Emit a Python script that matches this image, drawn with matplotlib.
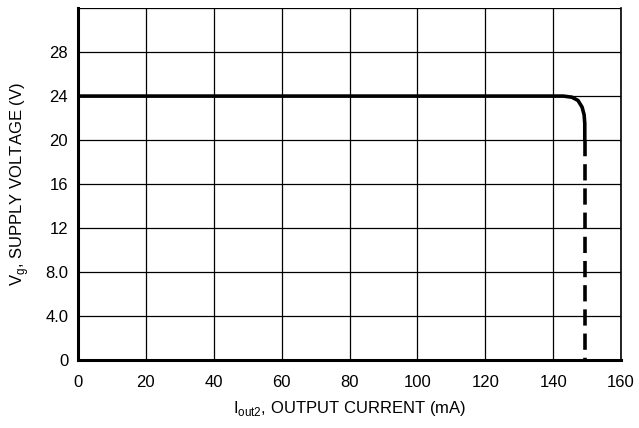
import numpy as np
import matplotlib.pyplot as plt

plt.rcParams['font.family'] = ['Liberation Sans', 'DejaVu Sans']
plt.rcParams['mathtext.fontset'] = 'custom'
plt.rcParams['mathtext.rm'] = 'Liberation Sans'

# solid part of the curve
i_solid = [0, 100, 143, 145.5, 147.3, 148.5, 149.1, 149.3, 149.3]
v_solid = [24, 24, 24, 23.9, 23.6, 23.0, 22.3, 21.5, 20.0]
# dashed part (extrapolated)
i_dash = [149.3, 149.3]
v_dash = [20.0, 0.0]

x_ticks = [0, 20, 40, 60, 80, 100, 120, 140, 160]
y_ticks = [0, 4, 8, 12, 16, 20, 24, 28, 32]
y_labels = ['0', '4.0', '8.0', '12', '16', '20', '24', '28', '']

fig = plt.figure(figsize=(6.39, 4.28), dpi=100)
ax = fig.add_axes([0.122, 0.159, 0.850, 0.822])

ax.plot(i_solid, v_solid, color='black', lw=2.6, solid_capstyle='butt')
ax.plot(i_dash, v_dash, color='black', lw=2.6, dashes=(4.5, 2.2))

ax.set_xlim(0, 160)
ax.set_ylim(0, 32)
ax.set_xticks(x_ticks)
ax.set_yticks(y_ticks)
ax.set_yticklabels(y_labels)
ax.grid(True, color='black', lw=0.9)
ax.tick_params(axis='x', length=0, labelsize=12, pad=11)
ax.tick_params(axis='y', length=0, labelsize=12, pad=7)

ax.spines['top'].set_visible(False)
ax.spines['left'].set_linewidth(2.2)
ax.spines['bottom'].set_linewidth(2.2)
ax.spines['right'].set_linewidth(1.2)

ax.set_xlabel(r'I$_\mathregular{out2}$, OUTPUT CURRENT (mA)', fontsize=12, labelpad=6)
ax.set_ylabel(r'V$_\mathregular{g}$, SUPPLY VOLTAGE (V)', fontsize=12, labelpad=10)

fig.savefig('out.png', dpi=100)
